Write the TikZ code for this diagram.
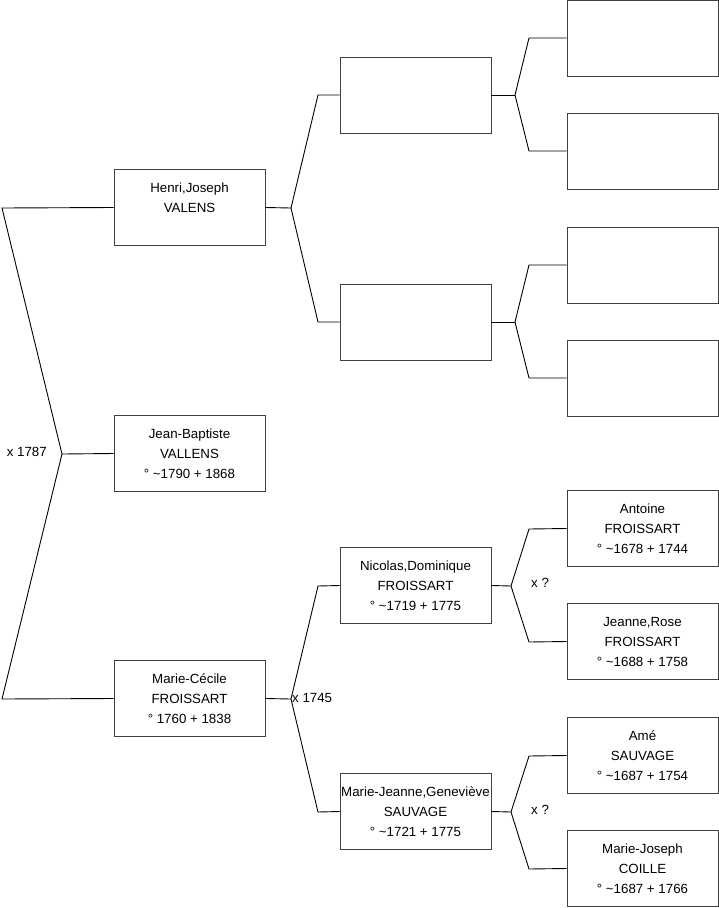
\documentclass[tikz,border=0pt]{standalone}
\usepackage{fontspec}
\setmainfont{Liberation Sans}
\begin{document}
\begin{tikzpicture}[x=1pt,y=-1pt,
  pbox/.style={draw=black!75,line width=0.9pt,minimum width=151pt,minimum height=76pt,inner sep=0pt,
    align=center,font=\fontsize{13.3}{20}\selectfont},
  conn/.style={draw=black,line width=0.9pt},
  lbl/.style={font=\fontsize{13.3}{15}\selectfont,inner sep=0pt}]
\useasboundingbox (0,0) rectangle (719,908);
% generation 1
\node[pbox] (hj) at (189.5,207.5) {Henri,Joseph\\VALENS\\\mbox{}};
\node[pbox] (jb) at (189.5,453.5) {Jean-Baptiste\\VALLENS\\° \textasciitilde1790 + 1868};
\node[pbox] (mc) at (189.5,698.5) {Marie-Cécile\\FROISSART\\° 1760 + 1838};
% generation 2
\node[pbox] (a1) at (415.5,95) {};
\node[pbox] (a2) at (415.5,322) {};
\node[pbox] (nd) at (415.5,585.5) {Nicolas,Dominique\\FROISSART\\° \textasciitilde1719 + 1775};
\node[pbox] (mj) at (415.5,811.5) {Marie-Jeanne,Geneviève\\SAUVAGE\\° \textasciitilde1721 + 1775};
% generation 3
\node[pbox] (b1) at (642.5,38) {};
\node[pbox] (b2) at (642.5,151) {};
\node[pbox] (b3) at (642.5,265) {};
\node[pbox] (b4) at (642.5,378) {};
\node[pbox] (af) at (642.5,528.5) {Antoine\\FROISSART\\° \textasciitilde1678 + 1744};
\node[pbox] (jr) at (642.5,641.5) {Jeanne,Rose\\FROISSART\\° \textasciitilde1688 + 1758};
\node[pbox] (as) at (642.5,755.5) {Amé\\SAUVAGE\\° \textasciitilde1687 + 1754};
\node[pbox] (mc2) at (642.5,868.5) {Marie-Joseph\\COILLE\\° \textasciitilde1687 + 1766};
% branch coordinates
\coordinate (p0) at (62,454);
\coordinate (p0a) at (2,208);
\coordinate (p0b) at (2,699);
\coordinate (p1) at (291,208);
\coordinate (p1a) at (318,95);
\coordinate (p1b) at (318,322);
\coordinate (p2) at (291,699);
\coordinate (p2a) at (318,586);
\coordinate (p2b) at (318,812);
\coordinate (q1) at (515,95);
\coordinate (q1a) at (529,38);
\coordinate (q1b) at (529,151);
\coordinate (q2) at (515,322);
\coordinate (q2a) at (529,265);
\coordinate (q2b) at (529,378);
\coordinate (q3) at (511,586);
\coordinate (q3a) at (529,529);
\coordinate (q3b) at (529,642);
\coordinate (q4) at (511,812);
\coordinate (q4a) at (529,756);
\coordinate (q4b) at (529,869);
% connectors
\draw[conn] (jb.west) -- (p0);
\draw[conn] (p0) -- (p0a) -- (hj.west);
\draw[conn] (p0) -- (p0b) -- (mc.west);
\draw[conn] (hj.east) -- (p1);
\draw[conn] (p1) -- (p1a) -- (a1.west);
\draw[conn] (p1) -- (p1b) -- (a2.west);
\draw[conn] (mc.east) -- (p2);
\draw[conn] (p2) -- (p2a) -- (nd.west);
\draw[conn] (p2) -- (p2b) -- (mj.west);
\draw[conn] (a1.east) -- (q1);
\draw[conn] (q1) -- (q1a) -- (b1.west);
\draw[conn] (q1) -- (q1b) -- (b2.west);
\draw[conn] (a2.east) -- (q2);
\draw[conn] (q2) -- (q2a) -- (b3.west);
\draw[conn] (q2) -- (q2b) -- (b4.west);
\draw[conn] (nd.east) -- (q3);
\draw[conn] (q3) -- (q3a) -- (af.west);
\draw[conn] (q3) -- (q3b) -- (jr.west);
\draw[conn] (mj.east) -- (q4);
\draw[conn] (q4) -- (q4a) -- (as.west);
\draw[conn] (q4) -- (q4b) -- (mc2.west);
% marriage labels
\node[lbl,anchor=east] (m1) at (47,452) {x 1787};
\node[lbl,anchor=west] (m2) at (292,698) {x 1745};
\node[lbl,anchor=west] (m3) at (531,583) {x ?};
\node[lbl,anchor=west] (m4) at (531,810) {x ?};
\end{tikzpicture}
\end{document}
